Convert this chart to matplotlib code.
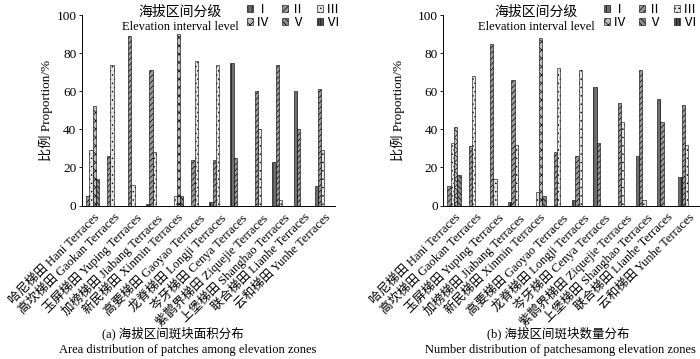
import matplotlib
matplotlib.use('Agg')
import matplotlib.pyplot as plt
import numpy as np

# ── data ─────────────────────────────────────────
terraces = ['哈尼梯田 Hani Terraces', '高坎梯田 Gaokan Terraces', '玉屏梯田 Yuping Terraces',
            '加榜梯田 Jiabang Terraces', '新民梯田 Xinmin Terraces', '高要梯田 Gaoyao Terraces',
            '龙脊梯田 Longji Terraces', '岑牙梯田 Cenya Terraces', '紫鹊界梯田 Ziquejie Terraces',
            '上堡梯田 Shanghao Terraces', '联合梯田 Lianhe Terraces', '云和梯田 Yunhe Terraces']
levels = ['Ⅰ', 'Ⅱ', 'Ⅲ', 'Ⅳ', 'Ⅴ', 'Ⅵ']

# (a) area proportion per elevation level
area_I   = [0, 0, 0, 1, 0, 0, 2, 75, 0, 23, 60, 10]
area_II  = [5, 26, 89, 71, 0, 24, 24, 25, 60, 74, 40, 61]
area_III = [29, 74, 11, 28, 5, 76, 74, 0, 40, 3, 0, 29]
area_IV  = [52, 0, 0, 0, 90, 0, 0, 0, 0, 0, 0, 0]
area_V   = [14, 0, 0, 0, 5, 0, 0, 0, 0, 0, 0, 0]
area_VI  = [0, 0, 0, 0, 0, 0, 0, 0, 0, 0, 0, 0]

# (b) patch-number proportion per elevation level
num_I   = [0, 0, 0, 2, 0, 0, 3, 62, 0, 26, 56, 15]
num_II  = [10, 31, 85, 66, 0, 28, 26, 33, 54, 71, 44, 53]
num_III = [33, 68, 14, 32, 7, 72, 71, 0, 44, 3, 0, 32]
num_IV  = [41, 0, 0, 0, 88, 0, 0, 0, 0, 0, 0, 0]
num_V   = [16, 0, 0, 0, 5, 0, 0, 0, 0, 0, 0, 0]
num_VI  = [0, 0, 0, 0, 0, 0, 0, 0, 0, 0, 0, 0]

area = [area_I, area_II, area_III, area_IV, area_V, area_VI]
num = [num_I, num_II, num_III, num_IV, num_V, num_VI]

# ── styles ───────────────────────────────────────
fam = ['Liberation Serif', 'Noto Sans CJK SC', 'DejaVu Sans']
plt.rcParams['font.family'] = fam
plt.rcParams['hatch.linewidth'] = 0.5

styles = [
    dict(facecolor='#6e6e6e', hatch='||||'),
    dict(facecolor='#9a9a9a', hatch='//////'),
    dict(facecolor='#e6e6e6', hatch='....'),
    dict(facecolor='#bdbdbd', hatch='xxxx'),
    dict(facecolor='#8a8a8a', hatch='\\\\\\\\\\\\'),
    dict(facecolor='#555555', hatch='||||||'),
]

fig = plt.figure(figsize=(7.0, 3.59), dpi=100)
x = np.arange(len(terraces))
w = 0.155


def draw(ax, data, ylabel_x, leg_x, title_x, caption, caption_en, cap_x1, cap_x2):
    handles = []
    for j, vals in enumerate(data):
        b = ax.bar(x + (j - 2.5) * w, vals, w, edgecolor='black', linewidth=0.4,
                   label=levels[j], **styles[j])
        handles.append(b)
    ax.set_xlim(-0.5, 11.5)
    ax.set_ylim(0, 100)
    ax.set_yticks([0, 20, 40, 60, 80, 100])
    ax.tick_params(axis='y', labelsize=9.5, length=2.5, width=0.6, pad=1.5)
    ax.set_xticks(x)
    ax.set_xticklabels(terraces, rotation=45, ha='right', rotation_mode='anchor', fontsize=9)
    ax.tick_params(axis='x', length=0, pad=4)
    for s in ['top', 'right']:
        ax.spines[s].set_visible(False)
    ax.spines['left'].set_linewidth(0.7)
    ax.spines['bottom'].set_linewidth(0.7)
    ax.set_ylabel('比例 Proportion/%', fontsize=9.5)
    ax.yaxis.set_label_coords(ylabel_x, 0.5)

    fig.text(title_x / 700, 1 - 12 / 359, '海拔区间分级', ha='center', va='center', fontsize=10)
    fig.text(title_x / 700, 1 - 27 / 359, 'Elevation interval level', ha='center', va='center', fontsize=9)
    # row-wise legend order: I II III / IV V VI
    order = [0, 3, 1, 4, 2, 5]
    ax.legend(handles=[handles[i] for i in order], ncol=3, frameon=False, loc='upper left',
              bbox_to_anchor=(leg_x / 700, 1 - 4 / 359), bbox_transform=fig.transFigure,
              fontsize=9.5, handlelength=0.45, handleheight=0.45, handletextpad=0.25,
              columnspacing=0.95, labelspacing=0.1, borderpad=0, borderaxespad=0)

    fig.text(cap_x1 / 700, 1 - 333 / 359, caption, ha='center', va='center', fontsize=9)
    fig.text(cap_x2 / 700, 1 - 350 / 359, caption_en, ha='center', va='center', fontsize=9)


ax_a = fig.add_axes([82 / 700, 1 - 205.5 / 359, 253 / 700, 190.5 / 359])
draw(ax_a, area, -0.115, 247, 180,
     '(a) 海拔区间斑块面积分布', 'Area distribution of patches among elevation zones', 173, 188)

ax_b = fig.add_axes([443.3 / 700, 1 - 205.5 / 359, 255.7 / 700, 190.5 / 359])
draw(ax_b, num, -0.15, 604, 536,
     '(b) 海拔区间斑块数量分布', 'Number distribution of patchesamong elevation zones', 558, 560)

plt.savefig('out.png', dpi=100)
